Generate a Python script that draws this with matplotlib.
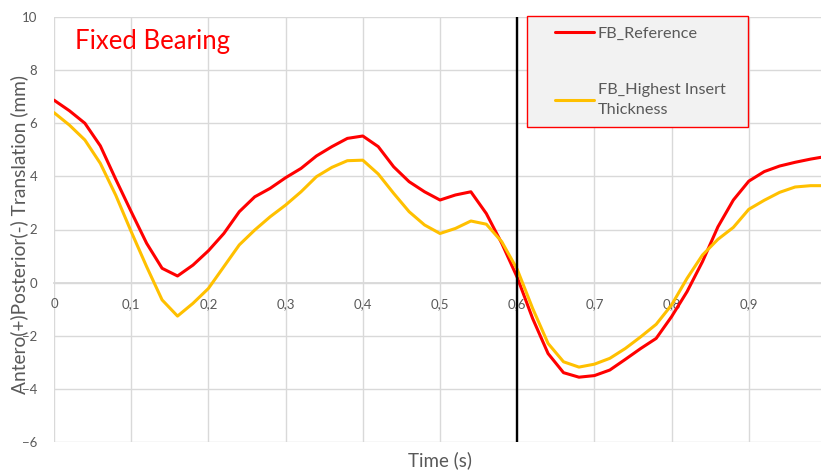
import matplotlib
matplotlib.use("Agg")
import matplotlib.pyplot as plt
from matplotlib.lines import Line2D
from matplotlib.legend_handler import HandlerLine2D
import numpy as np

plt.rcParams['font.family'] = ['Lato', 'DejaVu Sans']

# Time axis (s) and AP translation (mm) for both bearing setups
time_s = np.round(np.arange(0, 1.0001, 0.02), 2)
fb_reference = [6.87, 6.47, 6.00, 5.15, 3.89, 2.67, 1.48, 0.54, 0.25, 0.66,
                1.20, 1.85, 2.67, 3.23, 3.55, 3.95, 4.30, 4.77, 5.12, 5.43,
                5.52, 5.12, 4.36, 3.80, 3.42, 3.11, 3.30, 3.42, 2.60, 1.48,
                0.20, -1.35, -2.67, -3.39, -3.56, -3.50, -3.29, -2.89, -2.48, -2.10,
                -1.28, -0.34, 0.79, 2.10, 3.11, 3.82, 4.18, 4.39, 4.53, 4.65,
                4.75]
fb_highest_insert = [6.40, 5.93, 5.37, 4.49, 3.29, 1.92, 0.60, -0.65, -1.26, -0.78,
                     -0.22, 0.60, 1.42, 1.98, 2.48, 2.92, 3.42, 3.99, 4.34, 4.59,
                     4.61, 4.09, 3.36, 2.67, 2.17, 1.85, 2.04, 2.32, 2.20, 1.54,
                     0.50, -0.97, -2.29, -2.98, -3.18, -3.07, -2.85, -2.48, -2.04, -1.57,
                     -0.84, 0.16, 1.04, 1.63, 2.08, 2.76, 3.10, 3.40, 3.60, 3.65,
                     3.65]

x_ticks = [0, 0.1, 0.2, 0.3, 0.4, 0.5, 0.6, 0.7, 0.8, 0.9, 1.0]
x_tick_labels = ['0', '0,1', '0,2', '0,3', '0,4', '0,5', '0,6', '0,7', '0,8', '0,9', '1']
y_ticks = [-6, -4, -2, 0, 2, 4, 6, 8, 10]
marker_time = 0.6

grey_text = '#595959'
grid_col = '#d9d9d9'

fig = plt.figure(figsize=(8.21, 4.70), dpi=100)
ax = fig.add_axes([54 / 821, 28 / 470, 772 / 821, 425 / 470])

ax.plot(time_s, fb_reference, color='#ff0000', lw=2.2, label='FB_Reference',
        solid_capstyle='round', solid_joinstyle='round', zorder=3)
ax.plot(time_s, fb_highest_insert, color='#ffc000', lw=2.2,
        label='FB_Highest Insert\nThickness', solid_capstyle='round',
        solid_joinstyle='round', zorder=3)
ax.axvline(marker_time, color='black', lw=1.7, zorder=4)

ax.set_xlim(0, 1)
ax.set_ylim(-6, 10)
ax.set_xticks(x_ticks)
ax.set_xticklabels(x_tick_labels)
ax.set_yticks(y_ticks)

# category axis sits on y = 0
for side in ['top', 'right', 'left']:
    ax.spines[side].set_visible(False)
ax.spines['bottom'].set_position(('data', 0))
ax.spines['bottom'].set_color(grid_col)
ax.spines['bottom'].set_linewidth(1.3)
ax.grid(True, color=grid_col, lw=1.0)
ax.set_axisbelow(True)
ax.tick_params(axis='both', length=0, labelsize=9.5, labelcolor=grey_text)
ax.tick_params(axis='x', pad=11)
ax.tick_params(axis='y', pad=12)

ax.set_xlabel('Time (s)', fontsize=13.5, color=grey_text)
ax.xaxis.set_label_coords(0.5, -0.021)
ax.set_ylabel('Antero(+)Posterior(-) Translation (mm)', fontsize=13.8, color=grey_text)
ax.yaxis.set_label_coords(-0.034, 0.489)

ax.text(0.027, 0.9435, 'Fixed Bearing', transform=ax.transAxes, color='#ff0000',
        fontsize=18.5, va='center', ha='left')

leg_fs = 11.7
leg = ax.legend(loc='upper left', bbox_to_anchor=(0.6127, 1.002, 0.2863, 0.0),
                mode='expand', fontsize=leg_fs, frameon=True, fancybox=False,
                facecolor='#f2f2f2', edgecolor='#ff0000', framealpha=1,
                borderpad=0.65, labelspacing=2.6, handlelength=3.5,
                handletextpad=0.2, borderaxespad=0,
                handler_map={Line2D: HandlerLine2D(xpad=1.1)})
leg.get_frame().set_linewidth(1.0)
for t in leg.get_texts():
    t.set_color(grey_text)
    t.set_linespacing(1.5)

fig.savefig('out.png', dpi=100)
